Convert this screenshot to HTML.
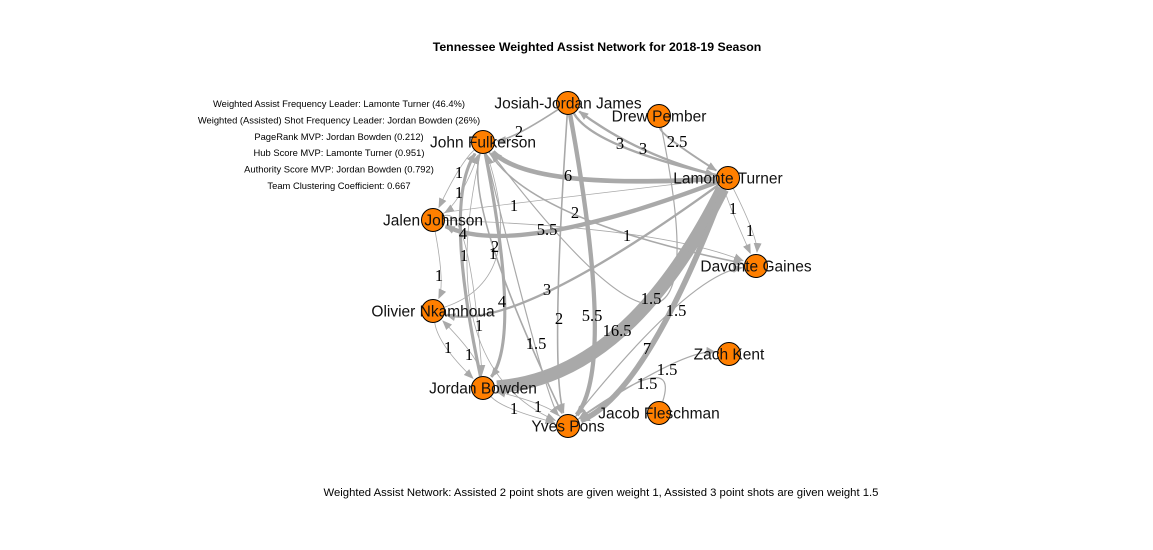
<!DOCTYPE html>
<html><head><meta charset="utf-8"><style>
html,body{margin:0;padding:0;background:#fff;}
svg{display:block;font-family:"Liberation Sans",Arial,sans-serif;}
</style></head><body>
<svg id="chart" width="1153" height="550" viewBox="0 0 1153 550" xmlns="http://www.w3.org/2000/svg">
<defs>
<marker id="arr" viewBox="0 0 10 10" refX="9" refY="5" markerWidth="10" markerHeight="10" markerUnits="userSpaceOnUse" orient="auto"><path d="M0,1 L10,5 L0,9 z" fill="#a9a9a9"/></marker>
</defs>
<text x="597" y="51" text-anchor="middle" font-weight="bold" font-size="12.3" fill="#000">Tennessee Weighted Assist Network for 2018-19 Season</text>
<g id="stats" font-size="9.4" fill="#000" text-anchor="middle"></g>
<g id="edges"></g>
<g id="elabels"></g>
<g id="nodes"></g>
<text x="601" y="496" text-anchor="middle" font-size="11.3" fill="#000">Weighted Assist Network: Assisted 2 point shots are given weight 1, Assisted 3 point shots are given weight 1.5</text>
</svg>
<script>
const statLines = ["Weighted Assist Frequency Leader: Lamonte Turner (46.4%)","Weighted (Assisted) Shot Frequency Leader: Jordan Bowden (26%)","PageRank MVP: Jordan Bowden (0.212)","Hub Score MVP: Lamonte Turner (0.951)","Authority Score MVP: Jordan Bowden (0.792)","Team Clustering Coefficient: 0.667"];
const nodeNames = ["Josiah-Jordan James","Drew Pember","John Fulkerson","Lamonte Turner","Jalen Johnson","Davonte Gaines","Olivier Nkamhoua","Zach Kent","Jordan Bowden","Jacob Fleschman","Yves Pons"];
const nodeX = [568,659,483,728,433,756,433,729,483,659,568];
const nodeY = [103,116,142,178,220,266,311,354,388,413,426];
const edgeFrom = [3,0,3,3,3,3,1,0,3,2,4,3,3,2,4,4,6,8,8,10,8,2,4,2,6,2,0,2,1,10,10,9,3,0];
const edgeTo   = [8,10,10,2,4,0,3,2,6,5,5,5,5,4,2,6,8,6,10,8,2,8,8,10,2,10,10,10,2,5,7,10,4,3];
const edgeW    = [16.5,5.5,7,6,5.5,3,2.5,2,3,2,1,1,1,1,1,1,1,1,1,1,4,4,1,2,1,1,2,1.5,1.5,1.5,1.5,1.5,1,3];
const labelX   = [617,592,647,568,547,643,677,519,547,575,627,733,750,459,459,439,448,469,514,538,463,502,464,495,493,479,559,536,651,676,667,647,514,620];
const labelY   = [330,315,348,175,229,148,141,131,289,212,235,208,230,172,192,275,347,354,408,406,233,301,255,246,253,325,318,343,298,310,369,383,205,143];
const edgeText = ["16.5","5.5","7","6","5.5","3","2.5","2","3","2","1","1","1","1","1","1","1","1","1","1","4","4","1","2","1","1","2","1.5","1.5","1.5","1.5","1.5","1","3"];
const NS="http://www.w3.org/2000/svg";
const st=document.getElementById('stats');
statLines.forEach((s,i)=>{const t=document.createElementNS(NS,'text');


t.setAttribute('x',339);t.setAttribute('y',107+i*16.4);t.textContent=s;st.appendChild(t);});
const eg=document.getElementById('edges'), lg=document.getElementById('elabels');
const R=12;
for(let i=0;i<edgeFrom.length;i++){
  const x0=nodeX[edgeFrom[i]],y0=nodeY[edgeFrom[i]],x2=nodeX[edgeTo[i]],y2=nodeY[edgeTo[i]];
  const lx=labelX[i],ly=labelY[i];
  const cx=2*lx-(x0+x2)/2, cy=2*ly-(y0+y2)/2;
  let d0=Math.hypot(cx-x0,cy-y0)||1, d2=Math.hypot(cx-x2,cy-y2)||1;
  const sx=x0+(cx-x0)/d0*R, sy=y0+(cy-y0)/d0*R, ex=x2+(cx-x2)/d2*(R+2), ey=y2+(cy-y2)/d2*(R+2);
  const p=document.createElementNS(NS,'path');
  
  
  p.setAttribute('d',`M${sx},${sy} Q${cx},${cy} ${ex},${ey}`);
  p.setAttribute('fill','none');p.setAttribute('stroke','#a9a9a9');
  p.setAttribute('stroke-width',Math.max(0.8,edgeW[i]*0.8));
  p.setAttribute('marker-end','url(#arr)');
  eg.appendChild(p);
  const t=document.createElementNS(NS,'text');
  
  
  t.setAttribute('x',lx);t.setAttribute('y',ly+6);t.setAttribute('text-anchor','middle');
  t.setAttribute('font-family','"Liberation Serif",serif');t.setAttribute('font-size','16.5');t.setAttribute('fill','#000');
  t.textContent=edgeText[i];lg.appendChild(t);
}
const ng=document.getElementById('nodes');
nodeNames.forEach((n,i)=>{
  const c=document.createElementNS(NS,'circle');
  
  
  c.setAttribute('cx',nodeX[i]);c.setAttribute('cy',nodeY[i]);c.setAttribute('r',11.5);
  c.setAttribute('fill','#ff7f00');c.setAttribute('stroke','#000');c.setAttribute('stroke-width','1');
  ng.appendChild(c);
});
nodeNames.forEach((n,i)=>{
  const t=document.createElementNS(NS,'text');
  
  
  t.setAttribute('x',nodeX[i]);t.setAttribute('y',nodeY[i]+5.5);t.setAttribute('text-anchor','middle');
  t.setAttribute('font-size','15.5');t.setAttribute('fill','#111');t.textContent=n;ng.appendChild(t);
});
</script>
</body></html>
